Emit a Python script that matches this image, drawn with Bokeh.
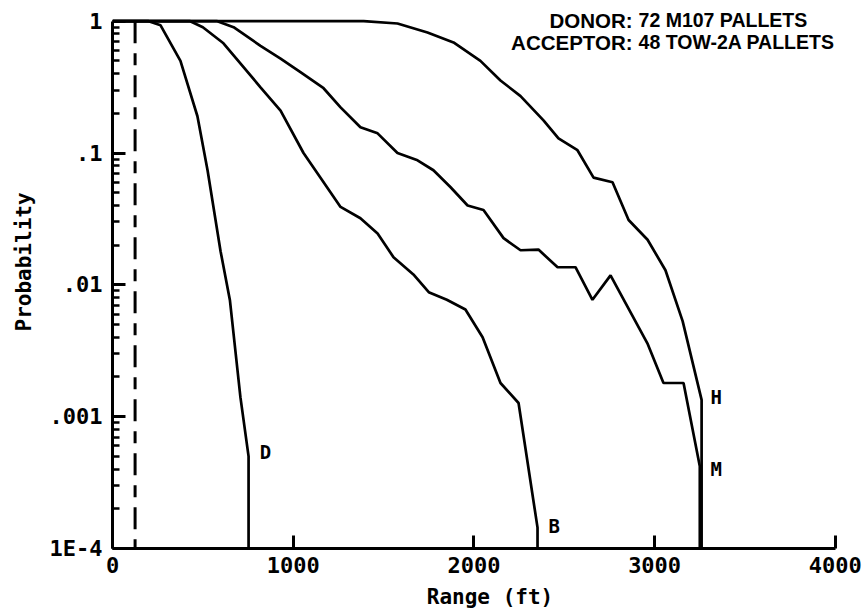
import math
from bokeh.plotting import figure
from bokeh.models import FixedTicker, Label, Range1d, Title
from bokeh.embed import file_html
from bokeh.resources import INLINE

# ---- data ----
range_ticks = [0, 1000, 2000, 3000, 4000]
prob_ticks = [1e-4, 1e-3, 1e-2, 1e-1, 1.0]
prob_tick_labels = ["1E-4", ".001", ".01", ".1", "1"]

# curve D
d_range = [0, 200, 266, 376, 470, 526, 598, 650, 708, 753, 753]
d_prob = [1.0, 1.0, 0.93, 0.5, 0.19, 0.074, 0.018, 0.0076, 0.0014, 0.0005, 0.0001]

# curve B
b_range = [0, 430, 500, 614, 819, 930, 1057, 1151, 1262, 1372, 1467, 1555, 1665,
           1750, 1850, 1953, 2048, 2147, 2247, 2352, 2352]
b_prob = [1.0, 1.0, 0.9, 0.68, 0.315, 0.21, 0.10, 0.065, 0.039, 0.032, 0.0245, 0.0162, 0.012,
          0.0088, 0.0077, 0.0065, 0.0040, 0.0018, 0.00127, 0.000144, 0.0001]

# curve M
m_range = [0, 580, 670, 819, 930, 1040, 1168, 1262, 1372, 1467, 1577, 1688, 1776, 1871,
           1965, 2053, 2164, 2258, 2357, 2463, 2562, 2656, 2756, 2960, 3049, 3160, 3250, 3250]
m_prob = [1.0, 1.0, 0.9, 0.65, 0.52, 0.41, 0.31, 0.222, 0.157, 0.141, 0.10, 0.088, 0.074, 0.055,
          0.040, 0.037, 0.0226, 0.0183, 0.0185, 0.0136, 0.0136, 0.0077, 0.0118, 0.0036, 0.0018,
          0.0018, 0.00042, 0.0001]

# curve H
h_range = [0, 1390, 1577, 1743, 1887, 2036, 2147, 2258, 2385, 2468, 2573, 2662, 2767,
           2856, 2961, 3060, 3155, 3260, 3260]
h_prob = [1.0, 1.0, 0.96, 0.82, 0.69, 0.50, 0.355, 0.27, 0.177, 0.129, 0.105, 0.065, 0.060,
          0.031, 0.022, 0.0129, 0.0053, 0.00134, 0.0001]

# dashed reference line
threshold_range = [125, 125]
threshold_prob = [1.0, 1e-4]

header_keys = ["DONOR:", "ACCEPTOR:"]
header_values = ["72 M107 PALLETS", "48 TOW-2A PALLETS"]

curve_names = ["D", "B", "M", "H"]

# ---- figure ----
p = figure(width=867, height=611, y_axis_type="log",
           x_range=Range1d(0, 4178), y_range=Range1d(1e-4, 1.435),
           output_backend="svg", toolbar_location=None,
           min_border_left=112, min_border_right=0, min_border_top=0, min_border_bottom=63)

p.outline_line_color = None
p.xgrid.visible = False
p.ygrid.visible = False
p.background_fill_color = "white"
p.border_fill_color = "white"

MONO = "DejaVu Sans Mono"

# x axis
xa = p.xaxis[0]
xa.ticker = FixedTicker(ticks=range_ticks)
xa.bounds = (0, 4000)
xa.axis_line_width = 3
xa.major_tick_line_width = 3
xa.major_tick_in = 13
xa.major_tick_out = 0
xa.minor_tick_in = 0
xa.minor_tick_out = 0
xa.major_label_text_font = MONO
xa.major_label_text_font_style = "bold"
xa.major_label_text_font_size = "22px"
xa.major_label_text_color = "black"
xa.major_label_standoff = 8
xa.axis_label = "Range (ft)"
xa.axis_label_text_font = MONO
xa.axis_label_text_font_style = "bold"
xa.axis_label_text_font_size = "21px"
xa.axis_label_text_color = "black"
xa.axis_label_standoff = 9

# y axis
minor = [m * 10.0 ** e for e in range(-4, 0) for m in range(2, 10)]
ya = p.yaxis[0]
ya.ticker = FixedTicker(ticks=prob_ticks, minor_ticks=minor)
ya.bounds = (1e-4, 1.0)
ya.axis_line_width = 3
ya.major_tick_line_width = 3
ya.minor_tick_line_width = 2.5
ya.major_tick_in = 13
ya.major_tick_out = 0
ya.minor_tick_in = 7
ya.minor_tick_out = 0
ya.major_label_overrides = {t: s for t, s in zip(prob_ticks, prob_tick_labels)}
ya.major_label_text_font = MONO
ya.major_label_text_font_style = "bold"
ya.major_label_text_font_size = "22px"
ya.major_label_text_color = "black"
ya.major_label_standoff = 10

# y axis title as a side title so it can be shifted along the axis
p.add_layout(Title(text="Probability", align="left", offset=217, vertical_align="top",
                   text_font=MONO, text_font_style="bold", text_font_size="21px",
                   text_color="black", standoff=18), "left")

# curves
for xs, ys in [(d_range, d_prob), (b_range, b_prob), (m_range, m_prob), (h_range, h_prob)]:
    p.line(xs, ys, line_color="black", line_width=2.7)

p.line(threshold_range, threshold_prob, line_color="black", line_width=3, line_dash="22 10 12 10")

# curve end labels
label_pos = {"D": (815, 0.00054), "B": (2413, 0.000149), "M": (3309, 0.000402), "H": (3309, 0.00141)}
for name in curve_names:
    x, y = label_pos[name]
    p.add_layout(Label(x=x, y=y, text=name, text_font=MONO, text_font_style="bold",
                       text_font_size="19px", text_baseline="middle", text_align="left",
                       text_color="black"))

# header
for key, val, y in zip(header_keys, header_values, [1.012, 0.69]):
    p.add_layout(Label(x=2878, y=y, text=key, text_font="Liberation Sans", text_font_style="bold",
                       text_font_size="20.5px", text_baseline="middle", text_align="right",
                       text_color="black"))
    p.add_layout(Label(x=2911, y=y, text=val, text_font="Liberation Sans", text_font_style="bold",
                       text_font_size="19.5px", text_baseline="middle", text_align="left",
                       text_color="black"))

open("out.html", "w").write(file_html(p, INLINE))
